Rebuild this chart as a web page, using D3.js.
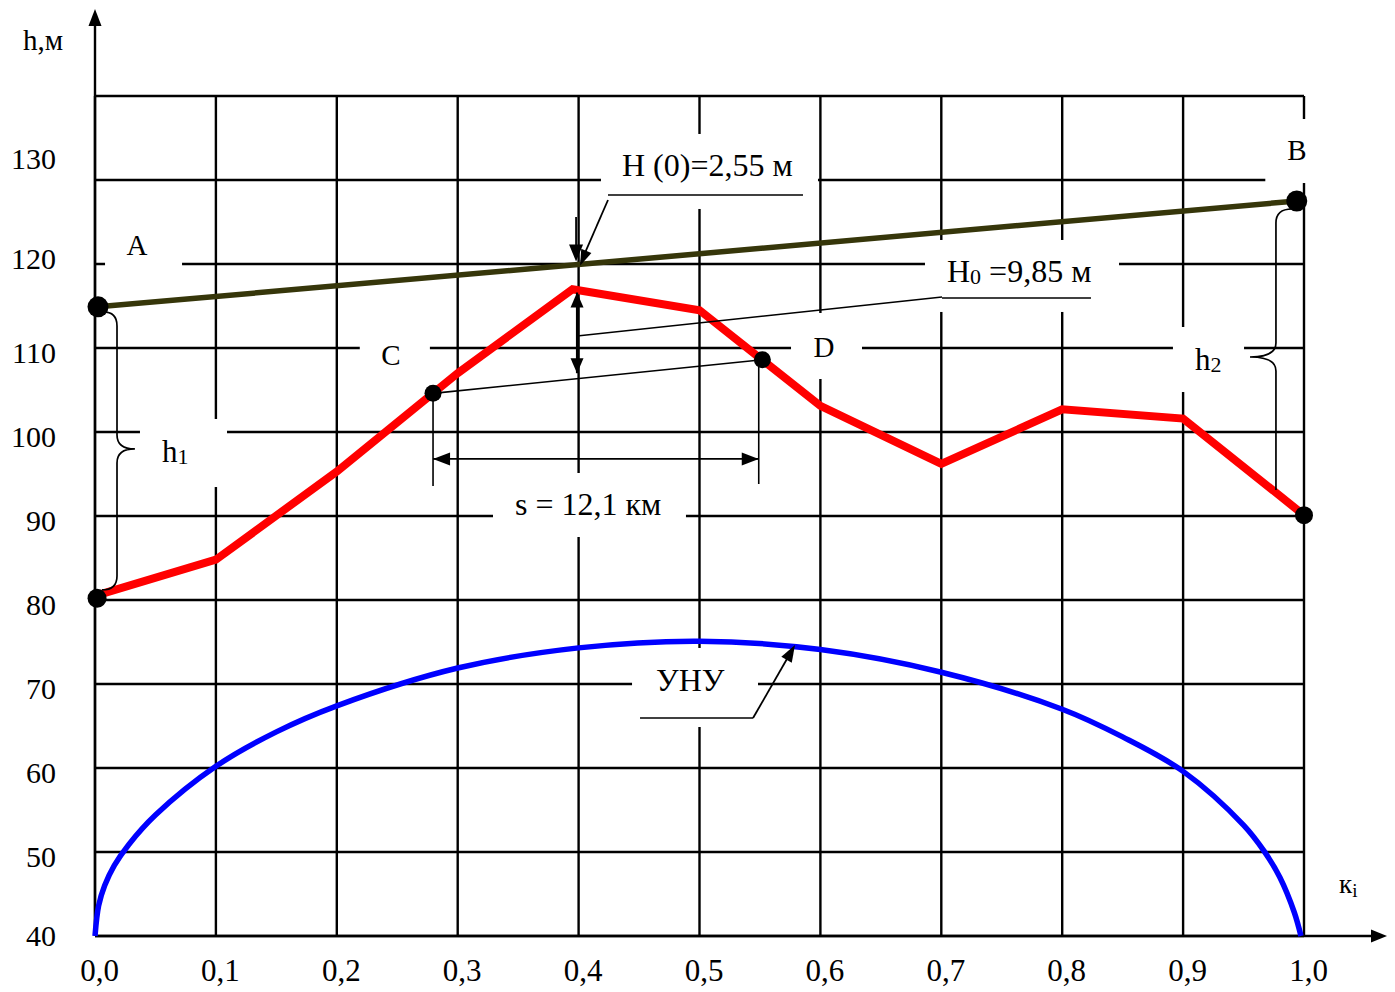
<!DOCTYPE html>
<html><head><meta charset="utf-8">
<script src="https://cdn.jsdelivr.net/npm/d3@7"></script>
<style>
html,body{margin:0;padding:0;background:#fff;}
svg text{font-family:"Liberation Serif","Times New Roman",serif;fill:#000;}
</style></head>
<body><svg id="chart" width="1395" height="992"></svg>
<script>
// ---------- data ----------
const kTicks = [0,0.1,0.2,0.3,0.4,0.5,0.6,0.7,0.8,0.9,1.0];
const kTickLabels = ["0,0","0,1","0,2","0,3","0,4","0,5","0,6","0,7","0,8","0,9","1,0"];
const hTicks = [40,50,60,70,80,90,100,110,120,130];
const hGrid = [40,50,60,70,80,90,100,110,120,130,140];

// terrain profile (red)
const profileK = [0,0.1,0.2,0.3,0.395,0.5,0.6,0.7,0.8,0.9,1.0];
const profileH = [80.5,84.8,95.3,107.0,117.0,114.5,103.1,96.2,102.7,101.6,90.1];

// line of sight A-B (olive)
const sightK = [0.0025,0.994];
const sightH = [114.9,127.5];

// УНУ curve (blue)
const unuK = [0,0.003,0.008,0.016,0.028,0.05,0.1,0.15,0.2,0.3,0.4,0.5,0.6,0.7,0.8,0.85,0.9,0.95,0.967,0.98,0.992,0.9975];
const unuH = [40,43.6,46.0,48.4,50.9,54.4,60.2,64.3,67.4,71.9,74.3,75.1,74.1,71.4,67.0,63.7,59.6,53.2,50.1,47.0,42.8,40];

// marked points
const pointNames = ["A","B","P0","C","D","P1"];
const pointK = [0.0025,0.994,0.0017,0.2796,0.552,1.0];
const pointH = [114.9,127.5,80.2,104.6,108.6,90.1];
const pointR = [10.5,10.5,9.5,8.5,8.5,9];

// ---------- setup ----------
const svg = d3.select("#chart");
const x = d3.scaleLinear().domain([0,1]).range([95,1304]);
const y = d3.scaleLinear().domain([40,140]).range([936,96]);
const P = name => { const i = pointNames.indexOf(name); return [x(pointK[i]), y(pointH[i])]; };

// ---------- grid ----------
const grid = svg.append("g").attr("stroke","#000").attr("stroke-width",2.4);
grid.selectAll("line.v").data(kTicks).join("line")
  .attr("x1",d=>x(d)).attr("x2",d=>x(d)).attr("y1",y(40)).attr("y2",y(140));
grid.selectAll("line.h").data(hGrid).join("line")
  .attr("y1",d=>y(d)).attr("y2",d=>y(d)).attr("x1",x(0)).attr("x2",x(1));

// axes arrows
svg.append("line").attr("x1",x(0)).attr("x2",x(0)).attr("y1",y(40)).attr("y2",20)
  .attr("stroke","#000").attr("stroke-width",2.4);
svg.append("path").attr("d",`M${x(0)},9 L${x(0)-6.5},26 L${x(0)+6.5},26 Z`).attr("fill","#000");
svg.append("line").attr("x1",x(0)).attr("x2",1375).attr("y1",y(40)).attr("y2",y(40))
  .attr("stroke","#000").attr("stroke-width",2.4);
svg.append("path").attr("d",`M1387,${y(40)} L1371,${y(40)-6.5} L1371,${y(40)+6.5} Z`).attr("fill","#000");

// ---------- label masks (white boxes breaking the grid) ----------
const masks = [
  [0.0083,0.072,119.3,124.6],     // A
  [0.968,1.03,129.64,137.26],     // B
  [0.4185,0.598,126.55,135.48],   // H(0)
  [0.6865,0.847,114.29,122.86],   // H0
  [0.219,0.277,107.5,112.0],      // C
  [0.5757,0.6344,106.31,114.17],  // D
  [0.0372,0.1092,93.45,101.55],   // h1
  [0.8916,0.9504,104.76,112.5],   // h2
  [0.3292,0.4888,87.5,95.12],     // s
  [0.4442,0.5484,64.88,74.29]     // УНУ
];
svg.append("g").selectAll("rect").data(masks).join("rect")
  .attr("x",d=>x(d[0])).attr("width",d=>x(d[1])-x(d[0]))
  .attr("y",d=>y(d[3])).attr("height",d=>y(d[2])-y(d[3]))
  .attr("fill","#fff");

// ---------- tick labels ----------
const xAxis = svg.append("g").attr("transform",`translate(0,${y(40)})`)
  .call(d3.axisBottom(x).tickValues(kTicks).tickFormat((d,i)=>kTickLabels[i]).tickSize(0));
xAxis.select(".domain").remove();
xAxis.selectAll("text").attr("y",45).attr("dy",null).attr("dx",4)
  .attr("font-size",31).attr("font-family",null).attr("fill","#000");

const yNudge = {130:-26,120:-10,40:-5};
const yAxis = svg.append("g").attr("transform",`translate(${x(0)},0)`)
  .call(d3.axisLeft(y).tickValues(hTicks).tickFormat(d=>d).tickSize(0));
yAxis.select(".domain").remove();
yAxis.selectAll("text").attr("x",-39).attr("dy",null)
  .attr("y",d=>14+(yNudge[d]||0)).attr("text-anchor","end")
  .attr("font-size",30).attr("font-family",null).attr("fill","#000");
xAxis.attr("font-family",null); yAxis.attr("font-family",null);

// ---------- data lines ----------
const sightLine = d3.line().x(d=>x(sightK[d])).y(d=>y(sightH[d]));
svg.append("path").attr("d",sightLine(d3.range(sightK.length)))
  .attr("fill","none").attr("stroke","#36360a").attr("stroke-width",5.5);

const profLine = d3.line().x(d=>x(profileK[d])).y(d=>y(profileH[d]));
svg.append("path").attr("d",profLine(d3.range(profileK.length)))
  .attr("fill","none").attr("stroke","#ff0000").attr("stroke-width",8).attr("stroke-linejoin","miter");

const unuLine = d3.line().x(d=>x(unuK[d])).y(d=>y(unuH[d])).curve(d3.curveCatmullRom.alpha(0.5));
svg.append("path").attr("d",unuLine(d3.range(unuK.length)))
  .attr("fill","none").attr("stroke","#0000ff").attr("stroke-width",5.5);

// ---------- annotations ----------
const ann = svg.append("g").attr("stroke","#000").attr("fill","none").attr("stroke-width",1.7);
const head = (x1,y1,x2,y2,len,w) => {
  const a = Math.atan2(y2-y1,x2-x1), c=Math.cos(a), s=Math.sin(a);
  const bx = x2-len*c, by = y2-len*s;
  svg.append("path").attr("d",`M${x2},${y2} L${bx-w/2*s},${by+w/2*c} L${bx+w/2*s},${by-w/2*c} Z`).attr("fill","#000");
};
const seg = (k1,h1,k2,h2,w) => ann.append("line").attr("x1",x(k1)).attr("y1",y(h1)).attr("x2",x(k2)).attr("y2",y(h2)).attr("stroke-width",w||1.7);

// arrow down to intersection
seg(0.3979,125.6,0.3979,120.6,1.8); head(x(0.3979),y(125.6),x(0.3979),y(120.3),17,14);
// H(0) leader
seg(0.4243,127.62,0.4022,120.3,1.8); head(x(0.4243),y(127.62),x(0.4012),y(119.8),16,11);
seg(0.4243,128.21,0.5856,128.21,1.6);
// double arrow peak-chord
seg(0.3987,116.6,0.3987,107.0,2.2);
head(x(0.3987),y(110),x(0.3987),y(116.6),15,13);
head(x(0.3987),y(112),x(0.3987),y(107.0),15,13);
// H0 leader
seg(0.3987,111.43,0.7006,116.07,1.6); seg(0.7006,115.95,0.8238,115.95,1.6);
// chord C-D
{ const c=P("C"), d=P("D"); ann.append("line").attr("x1",c[0]).attr("y1",c[1]).attr("x2",d[0]).attr("y2",d[1]).attr("stroke-width",1.6); }
// s dimension
seg(0.2796,104.6,0.2796,93.57,1.6); seg(0.549,108.6,0.549,93.81,1.6);
seg(0.2796,96.79,0.549,96.79,1.8);
head(x(0.4),y(96.79),x(0.2796),y(96.79),17,13);
head(x(0.4),y(96.79),x(0.549),y(96.79),17,13);
// УНУ leader
seg(0.4508,65.95,0.5443,65.95,1.6); seg(0.5443,65.95,0.576,73.9,1.8);
head(x(0.5443),y(65.95),x(0.579),y(74.64),17,12);

// braces
const brace = (xl,yt,yb,xc,yc,xt,xb,r) =>
  `M${xt},${yt} Q${xl},${yt} ${xl},${yt+r} L${xl},${yc-r} Q${xl},${yc} ${xc},${yc} Q${xl},${yc} ${xl},${yc+r} L${xl},${yb-r} Q${xl},${yb} ${xb},${yb}`;
ann.append("path").attr("d",brace(x(0.0182),y(114.3),y(81.2),x(0.033),y(97.98),x(0.0066),x(0.0058),14));
ann.append("path").attr("d",brace(x(0.9768),y(126.55),y(93.1),x(0.9553),y(108.93),x(0.990),x(0.9768),14));

// ---------- dots ----------
svg.append("g").selectAll("circle").data(pointNames).join("circle")
  .attr("cx",(d,i)=>x(pointK[i])).attr("cy",(d,i)=>y(pointH[i])).attr("r",(d,i)=>pointR[i]).attr("fill","#000");

// ---------- texts ----------
const txt = (k,h,s,size,anchor) => svg.append("text").attr("x",x(k)).attr("y",y(h))
  .attr("font-size",size).attr("text-anchor",anchor||"start").text(s);
svg.append("text").attr("x",23).attr("y",50).attr("font-size",29).text("h,м");
txt(0.0347,121.07,"A",29,"middle");
txt(0.9942,132.38,"B",29,"middle");
txt(0.2448,107.98,"C",29,"middle");
txt(0.603,108.93,"D",29,"middle");
txt(0.4359,130.48,"H (0)=2,55 м",32);
{ const t = txt(0.7047,117.86,"H",32);
  t.append("tspan").attr("font-size",22).attr("dy",2).text("0");
  t.append("tspan").attr("dy",-2).text(" =9,85 м"); }
{ const t = txt(0.0554,96.43,"h",31); t.append("tspan").attr("font-size",22).attr("dy",2).text("1"); }
{ const t = txt(0.9098,107.38,"h",31); t.append("tspan").attr("font-size",22).attr("dy",2).text("2"); }
txt(0.3474,90.12,"s = 12,1 км",32);
txt(0.464,69.17,"УНУ",32);
{ const t = txt(1.029,45.12,"к",27); t.append("tspan").attr("font-size",19).attr("dy",4).text("i"); }
</script></body></html>
